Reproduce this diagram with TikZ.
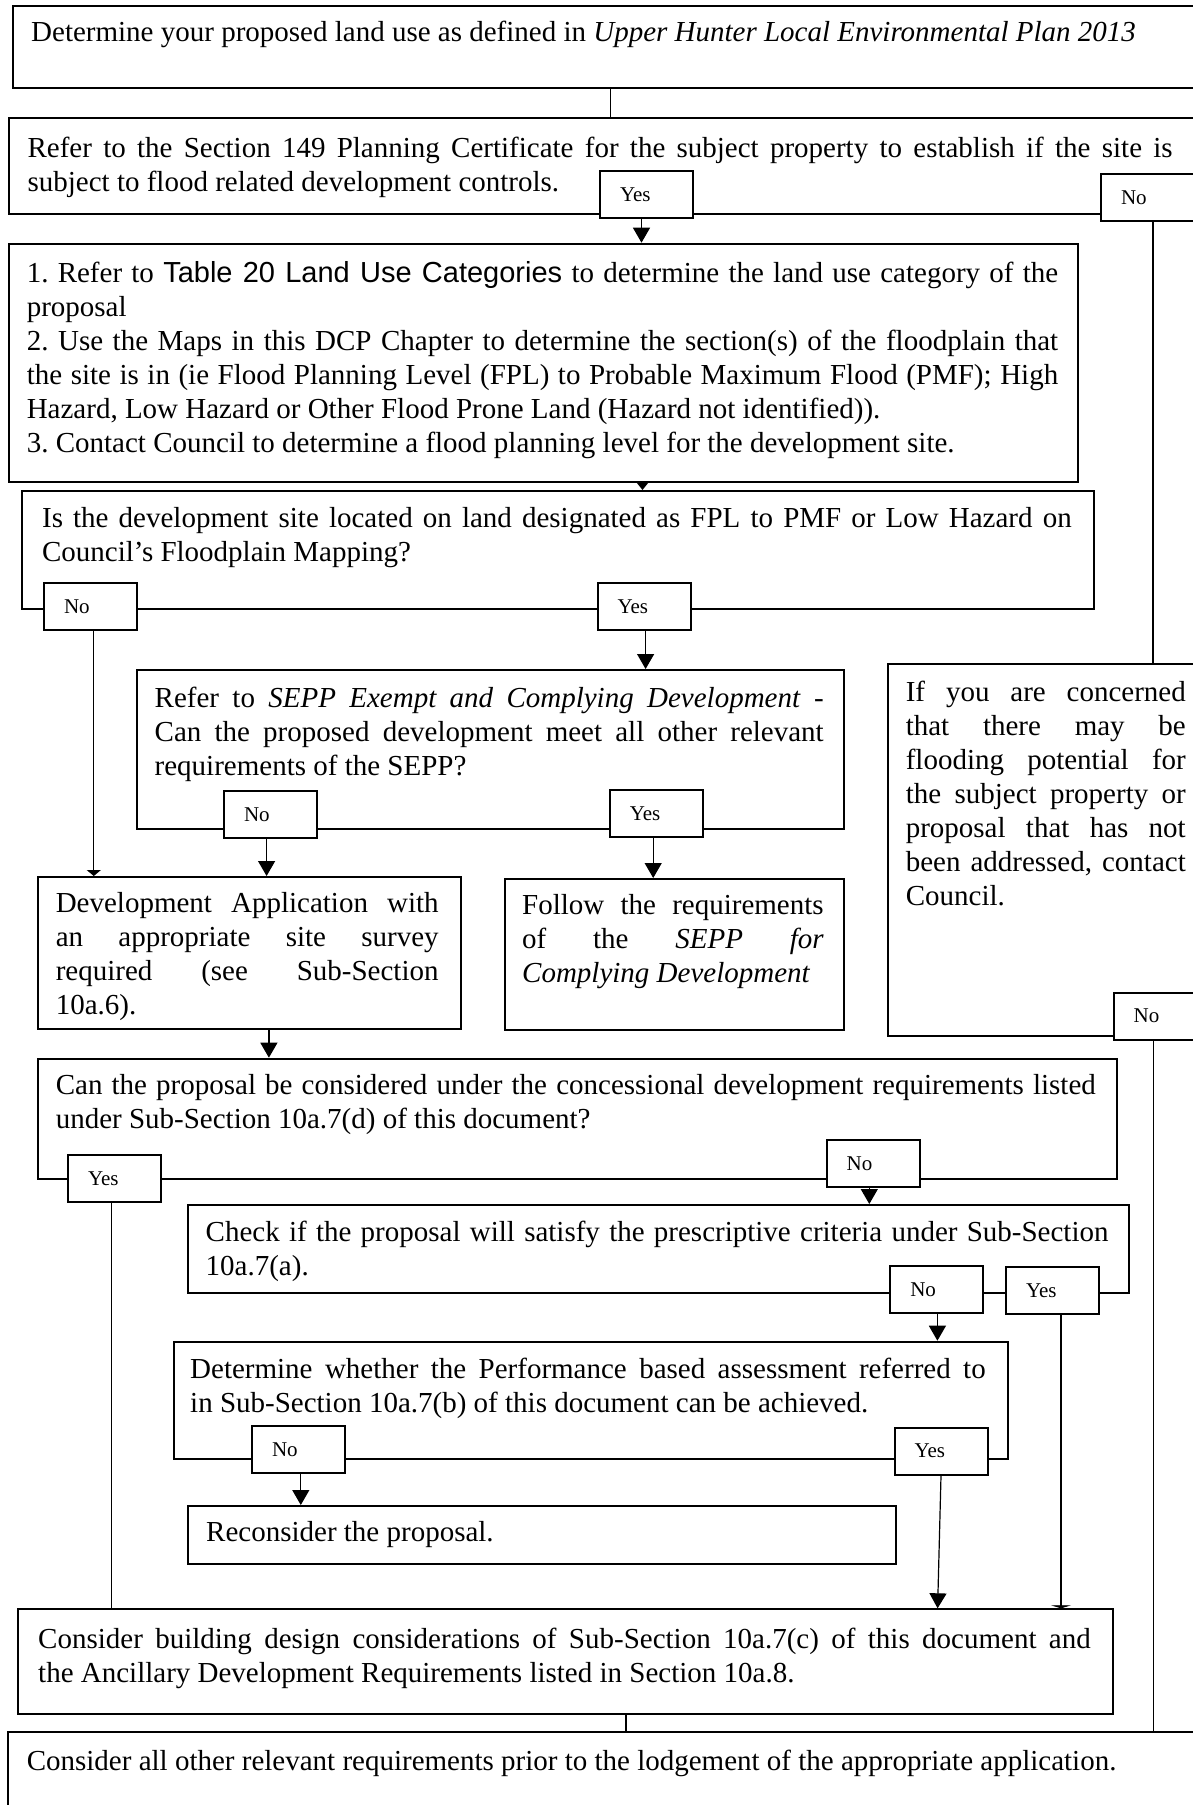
\documentclass[tikz,border=0pt]{standalone}
\usepackage{fontspec}
\setmainfont{Liberation Serif}
\newfontfamily\arialsans{Liberation Sans}
\usetikzlibrary{arrows.meta}
\frenchspacing
\newcommand{\jline}[1]{\hbox to \hsize{\strut #1}}
\newcommand{\nline}[1]{\hbox{\strut #1}}
\newcommand{\txtblock}[2]{\vbox{\hsize=#1pt\relax #2}}
\tikzset{
  boxst/.style={draw, line width=2pt, inner sep=0pt, anchor=north west},
  txtst/.style={inner sep=0pt, anchor=north west, font=\fontsize{29}{34}\selectfont\frenchspacing},
  lblst/.style={draw, fill=white, line width=2pt, anchor=north west,
    minimum width=93pt, minimum height=47pt, inner xsep=20pt, inner ysep=0pt,
    text width=53pt, align=left, font=\fontsize{21}{25}\selectfont},
  conn/.style={line width=1.2pt},
  arr/.style={conn, -{Triangle[width=17pt,length=15pt]}},
}
\begin{document}
\begin{tikzpicture}[x=1pt,y=-1pt]
\useasboundingbox (0,0) rectangle (1193,1805);
\fill[white] (0,0) rectangle (1193,1805);

% boxes
\node[boxst, minimum width=1198.3pt, minimum height=81.7pt] (b1) at (11.7,5) {};
\node[boxst, minimum width=1202pt, minimum height=96.3pt] (b2) at (8,117) {};
\node[boxst, minimum width=1069.7pt, minimum height=238pt] (b3) at (7.6,242.7) {};
\node[boxst, minimum width=1071.7pt, minimum height=118pt] (b4) at (21.3,490) {};
\node[boxst, minimum width=707.5pt, minimum height=159pt] (b5) at (135.5,669) {};
\node[boxst, minimum width=423.2pt, minimum height=151.7pt] (bda) at (36.5,876) {};
\node[boxst, minimum width=339.4pt, minimum height=151pt] (bfo) at (503.8,878) {};
\node[boxst, minimum width=323.4pt, minimum height=372pt] (brb) at (886.6,663) {};
\node[boxst, minimum width=1079.5pt, minimum height=119.8pt] (b6) at (36.5,1057.7) {};
\node[boxst, minimum width=941.8pt, minimum height=87.7pt] (b7) at (186.5,1204) {};
\node[boxst, minimum width=834pt, minimum height=117.6pt] (b8) at (172.8,1340.7) {};
\node[boxst, minimum width=708.5pt, minimum height=58.3pt] (bre) at (186.5,1505) {};
\node[boxst, minimum width=1095pt, minimum height=104.2pt] (b9) at (17,1608.3) {};
\node[boxst, minimum width=1203.3pt, minimum height=100pt] (b10) at (6.7,1730.7) {};

% labels
\node[lblst] (l2y) at (599,170) {Yes};
\node[lblst] (l2n) at (1100,173) {No};
\node[lblst] (l4n) at (43,582) {No};
\node[lblst] (l4y) at (596.6,582) {Yes};
\node[lblst] (l5n) at (223,790) {No};
\node[lblst] (l5y) at (608.8,789) {Yes};
\node[lblst] (lrn) at (1112.7,991.7) {No};
\node[lblst] (l6y) at (67,1154) {Yes};
\node[lblst] (l6n) at (825.7,1139) {No};
\node[lblst] (l7n) at (889.3,1265) {No};
\node[lblst] (l7y) at (1005,1266) {Yes};
\node[lblst] (l8n) at (251,1425) {No};
\node[lblst] (l8y) at (893.5,1426.7) {Yes};

% texts
\node[txtst] (t1) at (31,17.2) {\txtblock{1150}{\nline{Determine your proposed land use as defined in \textit{Upper Hunter Local Environmental Plan 2013}}}};
\node[txtst] (t2) at (27.4,133.2) {\txtblock{1145}{%
\jline{Refer to the Section 149 Planning Certificate for the subject property to establish if the site is}%
\nline{subject to flood related development controls.}}};
\node[txtst] (t3) at (26.6,258.2) {\txtblock{1031.4}{%
\jline{1. Refer to {\arialsans Table 20 Land Use Categories} to determine the land use category of the}%
\nline{proposal}%
\jline{2. Use the Maps in this DCP Chapter to determine the section(s) of the floodplain that}%
\jline{the site is in (ie Flood Planning Level (FPL) to Probable Maximum Flood (PMF); High}%
\nline{Hazard, Low Hazard or Other Flood Prone Land (Hazard not identified)).}%
\nline{3. Contact Council to determine a flood planning level for the development site.}}};
\node[txtst] (t4) at (41.9,503.2) {\txtblock{1029.6}{%
\jline{Is the development site located on land designated as FPL to PMF or Low Hazard on}%
\nline{Council’s Floodplain Mapping?}}};
\node[txtst] (t5) at (154.5,683.7) {\txtblock{669}{%
\jline{Refer to \textit{SEPP Exempt and Complying Development} -}%
\jline{Can the proposed development meet all other relevant}%
\nline{requirements of the SEPP?}}};
\node[txtst] (tda) at (55.6,888.7) {\txtblock{382.8}{%
\jline{Development Application with}%
\jline{an appropriate site survey}%
\jline{required (see Sub-Section}%
\nline{10a.6).}}};
\node[txtst] (tfo) at (522,890.7) {\txtblock{301.5}{%
\jline{Follow the requirements}%
\jline{of the \textit{SEPP for}}%
\nline{\textit{Complying Development}}}};
\node[txtst] (trb) at (905.6,677.7) {\txtblock{280}{%
\jline{If you are concerned}%
\jline{that there may be}%
\jline{flooding potential for}%
\jline{the subject property or}%
\jline{proposal that has not}%
\jline{been addressed, contact}%
\nline{Council.}}};
\node[txtst] (t6) at (55.6,1070.7) {\txtblock{1040}{%
\jline{Can the proposal be considered under the concessional development requirements listed}%
\nline{under Sub-Section 10a.7(d) of this document?}}};
\node[txtst] (t7) at (205.5,1217.2) {\txtblock{902.8}{%
\jline{Check if the proposal will satisfy the prescriptive criteria under Sub-Section}%
\nline{10a.7(a).}}};
\node[txtst] (t8) at (190,1354.7) {\txtblock{795.5}{%
\jline{Determine whether the Performance based assessment referred to}%
\nline{in Sub-Section 10a.7(b) of this document can be achieved.}}};
\node[txtst] (tre) at (206,1517.9) {\txtblock{600}{\nline{Reconsider the proposal.}}};
\node[txtst] (t9) at (38,1624.2) {\txtblock{1052.6}{%
\jline{Consider building design considerations of Sub-Section 10a.7(c) of this document and}%
\nline{the Ancillary Development Requirements listed in Section 10a.8.}}};
\node[txtst] (t10) at (26.6,1746.2) {\txtblock{1150}{\nline{Consider all other relevant requirements prior to the lodgement of the appropriate application.}}};

% connectors
\draw[conn] ([xshift=-1.3pt]b1.south) -- ([xshift=-1.3pt]b1.south |- b2.north);
\draw[arr] ([xshift=-5pt]l2y.south) -- ([xshift=-5pt]l2y.south |- b3.north);
\draw[conn] ([xshift=5.5pt]l2n.south) -- ([xshift=5.5pt]l2n.south |- brb.north);
\draw[conn, -{Triangle[width=14pt,length=9pt]}] ([xshift=-4pt]l2y.south |- b3.south) -- ([xshift=-4pt]l2y.south |- b4.north);
\draw[conn, -{Triangle[width=14pt,length=6pt]}] ([xshift=3.3pt]l4n.south) -- ([xshift=3.3pt]l4n.south |- bda.north);
\draw[arr] ([xshift=1.5pt]l4y.south) -- ([xshift=1.5pt]l4y.south |- b5.north);
\draw[arr] ([xshift=-3.9pt]l5n.south) -- ([xshift=-3.9pt]l5n.south |- bda.north);
\draw[arr] ([xshift=-3.1pt]l5y.south) -- ([xshift=-3.1pt]l5y.south |- bfo.north);
\draw[conn] ([xshift=-6.5pt]lrn.south) -- ([xshift=-6.5pt]lrn.south |- b10.north);
\draw[arr] ([xshift=19.8pt]bda.south) -- ([xshift=19.8pt]bda.south |- b6.north);
\draw[conn] ([xshift=-3.2pt]l6y.south) -- ([xshift=-3.2pt]l6y.south |- b9.north);
\draw[arr] ([xshift=-3.9pt]l6n.south) -- ([xshift=-3.9pt]l6n.south |- b7.north);
\draw[arr] ([xshift=0.6pt]l7n.south) -- ([xshift=0.6pt]l7n.south |- b8.north);
\draw[conn, -{Triangle[width=20pt,length=3pt]}] ([xshift=8.5pt]l7y.south) -- ([xshift=8.5pt]l7y.south |- b9.north);
\draw[arr] ([xshift=2.3pt]l8n.south) -- ([xshift=2.3pt]l8n.south |- bre.north);
\coordinate (b9yes) at (937.6,1608.3);
\draw[arr] (l8y.south) -- (b9yes);
\draw[conn] ([xshift=60.5pt]b9.south) -- ([xshift=60.5pt]b9.south |- b10.north);
\end{tikzpicture}
\end{document}
